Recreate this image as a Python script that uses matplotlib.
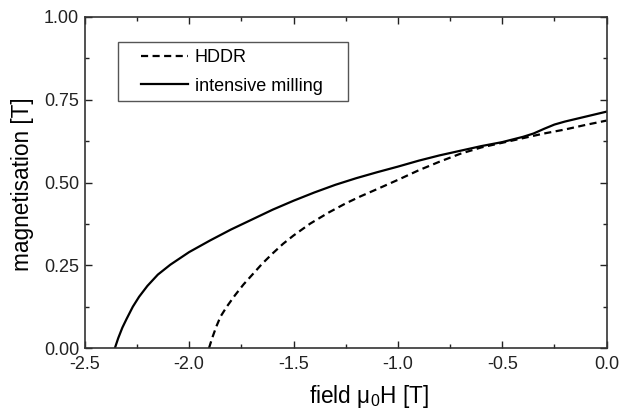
import matplotlib
matplotlib.use('Agg')
import matplotlib.pyplot as plt
from matplotlib.ticker import MultipleLocator
from matplotlib.patches import Rectangle

plt.rcParams['font.family'] = ['Liberation Sans', 'DejaVu Sans']
plt.rcParams['mathtext.fontset'] = 'custom'
plt.rcParams['mathtext.rm'] = 'Liberation Sans'
plt.rcParams['mathtext.it'] = 'Liberation Sans'

# HDDR (dashed)
hddr_x = [-1.905, -1.89, -1.87, -1.85, -1.82, -1.78, -1.74, -1.70, -1.65, -1.60,
          -1.55, -1.50, -1.42, -1.33, -1.25, -1.18, -1.10, -1.00, -0.90, -0.80,
          -0.70, -0.60, -0.50, -0.40, -0.30, -0.20, -0.10, 0.0]
hddr_y = [0.0, 0.030, 0.065, 0.095, 0.125, 0.160, 0.192, 0.220, 0.255, 0.286,
          0.315, 0.340, 0.376, 0.410, 0.437, 0.458, 0.480, 0.508, 0.537, 0.563,
          0.587, 0.606, 0.620, 0.634, 0.648, 0.660, 0.674, 0.687]

# intensive milling (solid)
mill_x = [-2.356, -2.34, -2.32, -2.30, -2.27, -2.24, -2.20, -2.15, -2.09, -2.00,
          -1.90, -1.80, -1.70, -1.60, -1.50, -1.40, -1.30, -1.20, -1.10, -1.00,
          -0.90, -0.80, -0.70, -0.60, -0.50, -0.40, -0.35, -0.30, -0.25, -0.20,
          -0.10, 0.0]
mill_y = [0.0, 0.030, 0.062, 0.088, 0.125, 0.155, 0.188, 0.222, 0.252, 0.290,
          0.325, 0.358, 0.388, 0.418, 0.445, 0.470, 0.493, 0.513, 0.531, 0.548,
          0.566, 0.582, 0.596, 0.610, 0.622, 0.638, 0.648, 0.662, 0.675, 0.684,
          0.699, 0.714]

fig = plt.figure(figsize=(6.19, 4.12), dpi=100)
ax = fig.add_axes([0.137, 0.155, 0.843, 0.804])

ax.plot(hddr_x, hddr_y, color='black', linestyle=(0, (3.2, 2.0)), lw=1.6, label='HDDR')
ax.plot(mill_x, mill_y, color='black', linestyle='-', lw=1.6, label='intensive milling')

ax.set_xlim(-2.5, 0.0)
ax.set_ylim(0.0, 1.0)
ax.xaxis.set_major_locator(MultipleLocator(0.5))
ax.xaxis.set_minor_locator(MultipleLocator(0.25))
ax.yaxis.set_major_locator(MultipleLocator(0.25))
ax.yaxis.set_minor_locator(MultipleLocator(0.125))
ax.xaxis.set_major_formatter(plt.FuncFormatter(lambda v, p: '%.1f' % v))
ax.yaxis.set_major_formatter(plt.FuncFormatter(lambda v, p: '%.2f' % v))
ax.tick_params(which='both', direction='in', top=True, right=True, labelsize=13, colors='#222222')
ax.tick_params(which='major', length=5, width=1)
ax.tick_params(axis='x', which='major', pad=6)
ax.tick_params(axis='y', which='major', pad=4)
ax.tick_params(which='minor', length=3, width=1)
for s in ax.spines.values():
    s.set_linewidth(1.2)
    s.set_color('#333333')

ax.set_xlabel(r'field $\mathregular{\mu_0}$H [T]', fontsize=16.3)
ax.xaxis.set_label_coords(0.545, -0.106)
ax.set_ylabel('magnetisation [T]', fontsize=16.3)
ax.yaxis.set_label_coords(-0.098, 0.494)

# legend frame drawn separately (wide right padding as in the original)
ax.add_patch(Rectangle((0.063, 0.746), 0.442, 0.178, transform=ax.transAxes,
                       fill=False, edgecolor='#555555', lw=1.0, zorder=4))
leg = ax.legend(loc='upper left', bbox_to_anchor=(0.107, 0.902), fontsize=13,
                handlelength=2.6, frameon=False, borderpad=0,
                labelspacing=0.62, handletextpad=0.4, borderaxespad=0)

fig.savefig('out.png', dpi=100)
